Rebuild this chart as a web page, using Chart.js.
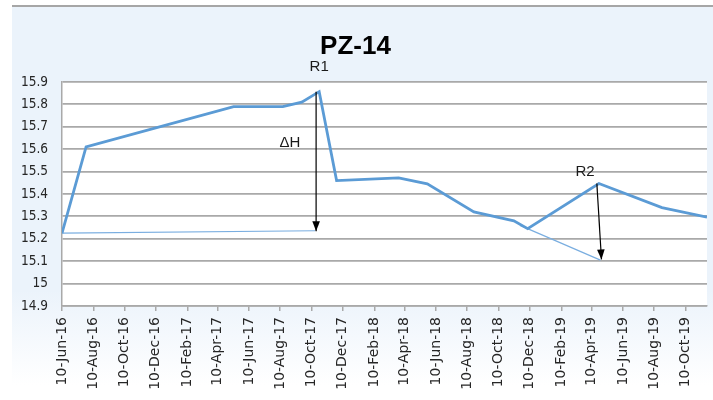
<!DOCTYPE html>
<html>
<head>
<meta charset="utf-8">
<script src="https://cdn.jsdelivr.net/npm/chart.js@4.4.1/dist/chart.umd.min.js"></script>
<style>
html,body{margin:0;padding:0;background:#ffffff;}
#wrap{width:713px;height:400px;}
</style>
</head>
<body>
<div id="wrap"><canvas id="c" width="713" height="400"></canvas></div>
<script>
// ---------- data ----------
const chartTitle = 'PZ-14';
const mainDates  = ['2016-06-10','2016-07-27','2017-05-11','2017-08-15','2017-09-21','2017-10-25','2017-11-28','2018-03-29','2018-05-24','2018-08-23','2018-11-09','2018-12-06','2019-04-24','2019-08-25','2019-11-21'];
const mainLevels = [15.225, 15.61, 15.79, 15.79, 15.81, 15.857, 15.46, 15.472, 15.445, 15.32, 15.28, 15.245, 15.447, 15.339, 15.297];
const base1Dates  = ['2016-06-10','2017-10-17'];
const base1Levels = [15.225, 15.236];
const base2Dates  = ['2018-11-21','2019-04-27'];
const base2Levels = [15.26, 15.105];
const arrowR1Dates  = ['2017-10-19','2017-10-19'];
const arrowR1Levels = [15.857, 15.234];
const arrowR2Dates  = ['2019-04-20','2019-04-29'];
const arrowR2Levels = [15.447, 15.108];
const noteTexts  = ['R1', 'ΔH', 'R2'];
const noteDates  = ['2017-10-25','2017-08-29','2019-03-28'];
const noteLevels = [15.967, 15.628, 15.498];
const tickLabels = ['10-Jun-16','10-Aug-16','10-Oct-16','10-Dec-16','10-Feb-17','10-Apr-17','10-Jun-17','10-Aug-17','10-Oct-17','10-Dec-17','10-Feb-18','10-Apr-18','10-Jun-18','10-Aug-18','10-Oct-18','10-Dec-18','10-Feb-19','10-Apr-19','10-Jun-19','10-Aug-19','10-Oct-19'];
const yMin = 14.9, yMax = 15.9, yStep = 0.1;

// ---------- helpers ----------
const MONTHS = {Jan:0,Feb:1,Mar:2,Apr:3,May:4,Jun:5,Jul:6,Aug:7,Sep:8,Oct:9,Nov:10,Dec:11};
function isoToUTC(s){ const [y,m,d] = s.split('-').map(Number); return Date.UTC(y, m-1, d); }
function labelToUTC(s){ const [d,mon,yy] = s.split('-'); return Date.UTC(2000+Number(yy), MONTHS[mon], Number(d)); }
const ORIGIN = isoToUTC(mainDates[0]);
const dayOf = ms => (ms - ORIGIN) / 86400000;
const pts = (dates, levels) => dates.map((d,i) => ({x: dayOf(isoToUTC(d)), y: levels[i]}));
const tickDays = tickLabels.map(l => dayOf(labelToUTC(l)));
const xMax = dayOf(isoToUTC(mainDates[mainDates.length-1]));

const BLUE = '#5b9bd5';
const GRID = '#a9a9a9';

const bgPlugin = {
  id: 'bg',
  beforeDraw(chart){
    const ctx = chart.ctx, ca = chart.chartArea;
    ctx.save();
    ctx.fillStyle = '#ffffff';
    ctx.fillRect(0,0,chart.width,chart.height);
    const g = ctx.createLinearGradient(0, 290, 0, 385);
    g.addColorStop(0, '#ebf3fb');
    g.addColorStop(1, '#ffffff');
    ctx.fillStyle = '#ebf3fb';
    ctx.fillRect(12, 7, chart.width-12, 283);
    ctx.fillStyle = g;
    ctx.fillRect(12, 290, chart.width-12, chart.height-290);
    ctx.fillStyle = '#a6a6a6';
    ctx.fillRect(12, 5, chart.width-12, 2);
    ctx.fillStyle = '#ffffff';
    ctx.fillRect(ca.left, ca.top, ca.right-ca.left, ca.bottom-ca.top);
    ctx.restore();
  }
};

const annoPlugin = {
  id: 'anno',
  afterDatasetsDraw(chart){
    const ctx = chart.ctx;
    ctx.save();
    ctx.fillStyle = '#000000';
    chart.data.datasets.forEach((ds, i) => {
      if (!ds.isArrow) return;
      const meta = chart.getDatasetMeta(i);
      const a = meta.data[meta.data.length-2], b = meta.data[meta.data.length-1];
      const ang = Math.atan2(b.y - a.y, b.x - a.x);
      const L = 10, W = 3.8;
      ctx.beginPath();
      ctx.moveTo(b.x, b.y);
      ctx.lineTo(b.x - L*Math.cos(ang) + W*Math.sin(ang), b.y - L*Math.sin(ang) - W*Math.cos(ang));
      ctx.lineTo(b.x - L*Math.cos(ang) - W*Math.sin(ang), b.y - L*Math.sin(ang) + W*Math.cos(ang));
      ctx.closePath();
      ctx.fill();
    });
    ctx.restore();
  },
  afterDraw(chart){
    const ctx = chart.ctx, xs = chart.scales.x, ys = chart.scales.y;
    ctx.save();
    ctx.fillStyle = '#000000';
    ctx.textAlign = 'center';
    ctx.textBaseline = 'middle';
    ctx.font = 'bold 26px "Liberation Sans Narrow", "Liberation Sans", sans-serif';
    ctx.fillText(chartTitle, 355.5, 47);
    ctx.font = '15px "Liberation Sans Narrow", "Liberation Sans", sans-serif';
    ctx.fillStyle = '#1a1a1a';
    noteTexts.forEach((t, i) => {
      ctx.fillText(t, xs.getPixelForValue(dayOf(isoToUTC(noteDates[i]))), ys.getPixelForValue(noteLevels[i]));
    });
    ctx.restore();
  }
};

new Chart(document.getElementById('c'), {
  type: 'line',
  data: {
    datasets: [
      { data: pts(arrowR1Dates, arrowR1Levels), borderColor: '#000000', borderWidth: 1.2, pointRadius: 0, isArrow: true, order: 0 },
      { data: pts(arrowR2Dates, arrowR2Levels), borderColor: '#000000', borderWidth: 1.2, pointRadius: 0, isArrow: true, order: 0 },
      { data: pts(mainDates, mainLevels), borderColor: BLUE, borderWidth: 2.8, pointRadius: 0, tension: 0, order: 1 },
      { data: pts(base1Dates, base1Levels), borderColor: '#7aaee0', borderWidth: 1.2, pointRadius: 0, order: 2 },
      { data: pts(base2Dates, base2Levels), borderColor: '#7aaee0', borderWidth: 1.2, pointRadius: 0, order: 2 }
    ]
  },
  options: {
    responsive: false,
    animation: false,
    devicePixelRatio: 1,
    layout: { padding: { top: 82, right: 6, left: 0, bottom: 0 } },
    plugins: { legend: { display: false }, tooltip: { enabled: false }, title: { display: false } },
    scales: {
      x: {
        type: 'linear',
        min: 0,
        max: xMax,
        afterFit(scale){ scale.height = 94; },
        afterBuildTicks(scale){ scale.ticks = tickDays.map(v => ({ value: v })); },
        ticks: {
          autoSkip: false,
          minRotation: 90,
          maxRotation: 90,
          padding: 6,
          color: '#262626',
          font: { family: '"DejaVu Sans", sans-serif', size: 14 },
          callback: (v, i) => tickLabels[i]
        },
        grid: { drawOnChartArea: false, drawTicks: true, tickLength: 5, color: GRID, lineWidth: 1.5 },
        border: { display: true, color: GRID, width: 1.5 }
      },
      y: {
        min: yMin,
        max: yMax,
        afterFit(scale){ scale.width = 62; },
        ticks: {
          stepSize: yStep,
          padding: 14,
          color: '#262626',
          font: { family: '"DejaVu Sans Condensed", "DejaVu Sans", sans-serif', size: 13.5 },
          callback: v => String(+v.toFixed(1))
        },
        grid: { drawTicks: false, color: GRID, lineWidth: 1.8 },
        border: { display: true, color: GRID, width: 1.5 }
      }
    }
  },
  plugins: [bgPlugin, annoPlugin]
});
</script>
</body>
</html>
